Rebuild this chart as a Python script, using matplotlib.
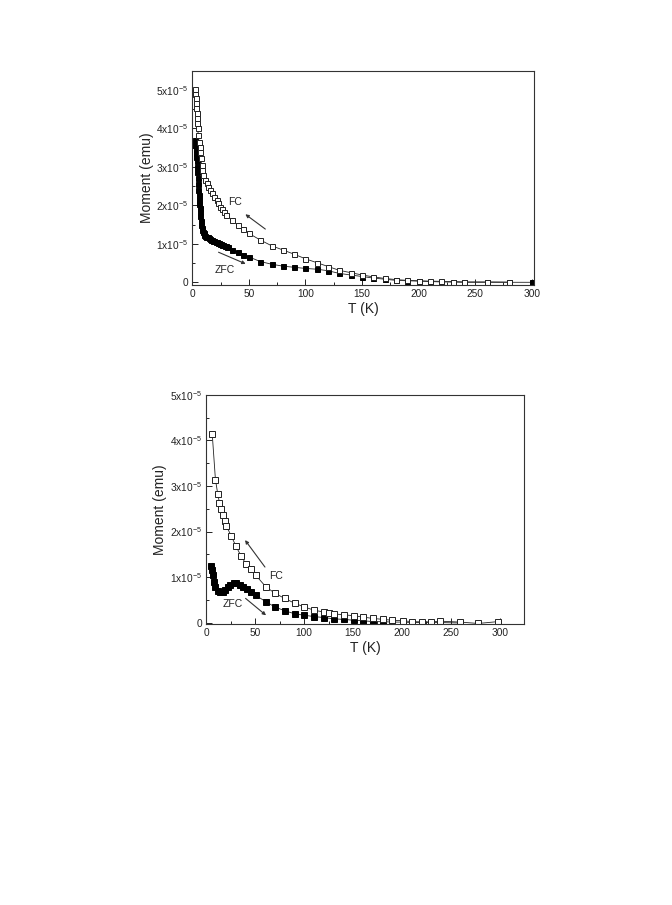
import matplotlib
matplotlib.use("Agg")
import matplotlib.pyplot as plt
from matplotlib.ticker import MultipleLocator, FixedLocator, FixedFormatter

plt.rcParams['font.family'] = ['Liberation Sans', 'DejaVu Sans']
plt.rcParams['mathtext.fontset'] = 'custom'
plt.rcParams['mathtext.rm'] = 'Liberation Sans'

# ---------------- data (moment in units of 1e-5 emu) ----------------
top_fc_T = [2.35, 2.6, 2.9, 3.2, 3.5, 3.8, 4.1, 4.4, 4.7, 5.3, 5.9, 6.5, 7.1, 7.6, 8.2, 8.8, 9.7,
            11.2, 12.6, 14.1, 15.6, 17.6, 19.4, 21.5, 22.9, 24.4, 26, 28, 30,
            35, 40, 45, 50, 60, 70, 80, 90, 100, 110, 120, 130, 140, 150, 160, 170, 180,
            190, 200, 210, 220, 230, 240, 260, 280]
top_fc_M = [5.03, 4.90, 4.78, 4.65, 4.52, 4.39, 4.26, 4.13, 4.00, 3.82, 3.65, 3.52, 3.39, 3.22, 3.04, 2.92, 2.79,
            2.66, 2.57, 2.48, 2.40, 2.31, 2.22, 2.14, 2.05, 1.96, 1.90, 1.82, 1.75,
            1.62, 1.49, 1.38, 1.27, 1.10, 0.95, 0.84, 0.73, 0.61, 0.51, 0.41, 0.31, 0.25, 0.19, 0.14, 0.10, 0.07,
            0.05, 0.04, 0.03, 0.025, 0.02, 0.01, 0.01, 0.005]

top_zfc_T = [2.3, 2.6, 2.9, 3.2, 3.5, 3.8, 4.1, 4.4, 4.7, 5.0, 5.3, 5.6, 5.9, 6.2, 6.5, 6.8, 7.2, 7.6,
             8.0, 8.4, 8.8, 9.3, 9.9, 10.6, 11.5, 12.5, 13.5, 14.5, 15.5, 16.5, 17.5, 18.5, 19.5,
             20.5, 21.5, 22.5, 23.5, 24.5, 25.5, 26.5, 27.5, 28.5, 29.5, 30.5, 31.5,
             35, 40, 45, 50, 60, 70, 80, 90, 100, 110, 120, 130, 140, 150, 160, 170, 180,
             190, 200, 210, 220, 230, 240, 260, 280, 300]
top_zfc_M = [3.69, 3.58, 3.47, 3.36, 3.25, 3.14, 3.00, 2.86, 2.70, 2.55, 2.40, 2.27, 2.15, 2.04, 1.93, 1.82, 1.71, 1.60,
             1.50, 1.42, 1.36, 1.31, 1.27, 1.24, 1.21, 1.19, 1.17, 1.15, 1.13, 1.11, 1.10, 1.08, 1.07,
             1.05, 1.04, 1.03, 1.01, 1.00, 0.99, 0.97, 0.96, 0.95, 0.94, 0.92, 0.91,
             0.84, 0.78, 0.72, 0.66, 0.54, 0.47, 0.42, 0.39, 0.36, 0.34, 0.30, 0.23, 0.19, 0.15, 0.11, 0.08, 0.05,
             0.04, 0.03, 0.02, 0.01, 0.005, 0.0, 0.0, 0.0, 0.0]

bot_fc_T = [6.1, 9.4, 11.8, 13.5, 15.2, 17.2, 18.9, 20.6, 25.6, 30.3, 35.4, 40.8, 45.8, 50.6, 60.7, 70.4,
            80.2, 90.7, 100.4, 110.5, 120.3, 125.5, 130.5, 140.5, 150.6, 160.4, 170.2, 180.7, 190,
            200.9, 210, 220.4, 229.5, 239, 259.5, 278, 298]
bot_fc_M = [4.15, 3.14, 2.82, 2.63, 2.49, 2.36, 2.23, 2.12, 1.90, 1.68, 1.47, 1.28, 1.17, 1.04, 0.79, 0.64,
            0.53, 0.42, 0.34, 0.27, 0.23, 0.21, 0.19, 0.17, 0.15, 0.12, 0.09, 0.07, 0.05,
            0.04, 0.02, 0.015, 0.015, 0.03, 0.01, -0.02, 0.02]

bot_zfc_T = [5.2, 6.2, 6.9, 7.6, 9.2, 11.6, 14.5, 17.2, 19.5, 21.9, 24.6, 28.0, 30.7, 34.0, 37.4, 41.5,
             45.5, 50.5, 60.7, 70.4, 80.2, 90.7, 100.4, 110.5, 120.3, 130.5, 140.5, 150.6, 160.4,
             170.2, 180.7, 190, 200.9, 210, 220.4, 229.5, 239, 259.5]
bot_zfc_M = [1.24, 1.16, 1.05, 0.90, 0.78, 0.70, 0.66, 0.67, 0.71, 0.77, 0.82, 0.86, 0.86, 0.82, 0.78, 0.73,
             0.68, 0.60, 0.46, 0.34, 0.26, 0.19, 0.16, 0.13, 0.11, 0.08, 0.07, 0.05, 0.04,
             0.02, 0.02, 0.01, 0.01, 0.0, 0.0, 0.0, 0.0, -0.01]

ytick_vals = [0, 1, 2, 3, 4, 5]
ytick_labels = ['0', r'1x10$^{\mathregular{-5}}$', r'2x10$^{\mathregular{-5}}$',
                r'3x10$^{\mathregular{-5}}$', r'4x10$^{\mathregular{-5}}$', r'5x10$^{\mathregular{-5}}$']

fig = plt.figure(figsize=(6.72, 9.05), dpi=100)
ax1 = fig.add_axes([0.2862, 0.6851, 0.5085, 0.2364])
ax2 = fig.add_axes([0.3069, 0.3106, 0.4732, 0.2530])


def style(ax, xmax, ymin, ymax):
    ax.set_xlim(0, xmax)
    ax.set_ylim(ymin, ymax)
    ax.xaxis.set_major_locator(MultipleLocator(50))
    ax.xaxis.set_minor_locator(MultipleLocator(25))
    ax.yaxis.set_major_locator(FixedLocator(ytick_vals))
    ax.yaxis.set_major_formatter(FixedFormatter(ytick_labels))
    ax.yaxis.set_minor_locator(MultipleLocator(0.5))
    ax.tick_params(which='both', direction='in', top=False, right=False, labelsize=7.3,
                   width=0.7, color='#222222', labelcolor='#222222')
    ax.tick_params(which='major', length=4, pad=3)
    ax.tick_params(which='minor', length=2.5)
    for s in ax.spines.values():
        s.set_linewidth(0.8)
        s.set_color('#333333')
    ax.set_xlabel('T (K)', fontsize=10, color='#222222', labelpad=2)
    ax.set_ylabel('Moment (emu)', fontsize=10, color='#222222', labelpad=2)


mk = dict(markeredgewidth=0.7, linewidth=0.6, color='#222222')

ax1.plot(top_zfc_T, top_zfc_M, marker='s', markersize=3.6, markerfacecolor='black', markeredgecolor='black', **mk)
ax1.plot(top_fc_T, top_fc_M, marker='s', markersize=3.6, markerfacecolor='white', markeredgecolor='#222222', **mk)
style(ax1, 302, -0.07, 5.49)
ax1.annotate('', xy=(44.9, 1.81), xytext=(66.5, 1.34),
             arrowprops=dict(arrowstyle='-|>', color='#333333', lw=0.8, mutation_scale=5))
ax1.annotate('', xy=(49.4, 0.45), xytext=(20.9, 0.81),
             arrowprops=dict(arrowstyle='-|>', color='#333333', lw=0.8, mutation_scale=5))
ax1.text(37.8, 2.09, 'FC', fontsize=7.5, ha='center', va='center', color='#222222')
ax1.text(28.3, 0.32, 'ZFC', fontsize=7.5, ha='center', va='center', color='#222222')

ax2.plot(bot_zfc_T, bot_zfc_M, marker='s', markersize=4.0, markerfacecolor='black', markeredgecolor='black', **mk)
ax2.plot(bot_fc_T, bot_fc_M, marker='s', markersize=4.0, markerfacecolor='white', markeredgecolor='#222222', **mk)
style(ax2, 325, -0.03, 5.0)
ax2.annotate('', xy=(38.0, 1.86), xytext=(61.7, 1.17),
             arrowprops=dict(arrowstyle='-|>', color='#333333', lw=0.8, mutation_scale=5))
ax2.annotate('', xy=(63.3, 0.12), xytext=(38.0, 0.57),
             arrowprops=dict(arrowstyle='-|>', color='#333333', lw=0.8, mutation_scale=5))
ax2.text(71.1, 1.03, 'FC', fontsize=7.5, ha='center', va='center', color='#222222')
ax2.text(26.9, 0.40, 'ZFC', fontsize=7.5, ha='center', va='center', color='#222222')

fig.savefig('out.png', dpi=100)
